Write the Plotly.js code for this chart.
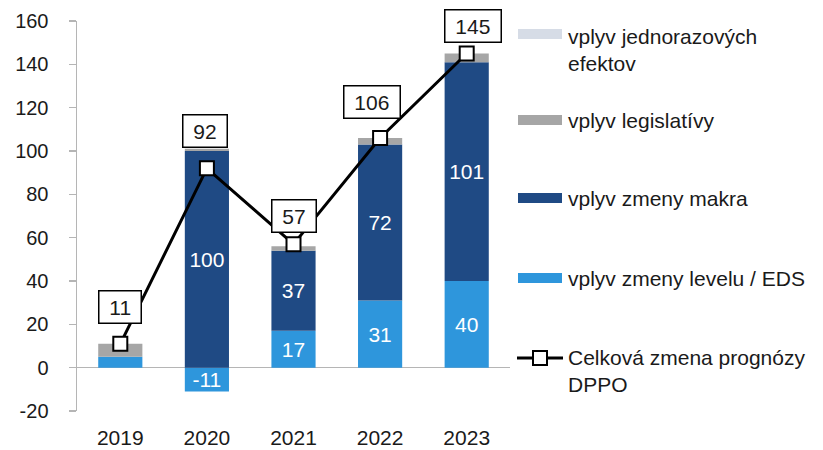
<!DOCTYPE html>
<html>
<head>
<meta charset="utf-8">
<script src="https://cdn.plot.ly/plotly-3.0.1.min.js"></script>
<style>html,body{margin:0;padding:0;background:#fff;}#chart{width:823px;height:450px;}</style>
</head>
<body>
<div id="chart"></div>
<script>
// ---- data ----
const years = ['2019', '2020', '2021', '2022', '2023'];
const levelEDS = [5, -11, 17, 31, 40];          // vplyv zmeny levelu / EDS
const makro = [0, 100, 37, 72, 101];            // vplyv zmeny makra
const legislativa = [6, 1, 2, 3, 4];            // vplyv legislatívy
const jednorazove = [0, 0, 0, 0, 0];            // vplyv jednorazových efektov
const total = [11, 92, 57, 106, 145];           // Celková zmena prognózy DPPO
const yTicks = [-20, 0, 20, 40, 60, 80, 100, 120, 140, 160];
const yTickText = ['-20', '0', '20', '40', '60', '80', '100', '120', '140', '160'];

const seriesNames = ['vplyv jednorazových<br>efektov', 'vplyv legislatívy', 'vplyv zmeny makra', 'vplyv zmeny levelu / EDS', 'Celková zmena prognózy<br>DPPO'];

// ---- style ----
const FONT = 'Arial, "Liberation Sans", sans-serif';
const C_LIGHT = '#2e96dc', C_DARK = '#1f4a84', C_GRAY = '#a6a6a6', C_JED = '#d6dce6';
const AXIS = '#b5b5b5';
const labelYShift = [37, 37, 28, 36, 28];
const labelXShift = [0, -2, 0, -8, 6];

const L = 77, R = 510, T = 21, B = 411;
const px2x = p => (p - L) / (R - L);
const px2y = p => (B - p) / (B - T);

const inLabel = arr => arr.map(v => Math.abs(v) >= 10 ? String(v) : '');

const barCommon = {type: 'bar', x: years, showlegend: false, hoverinfo: 'skip',
  textposition: 'inside', insidetextanchor: 'middle', constraintext: 'none',
  textfont: {family: FONT, size: 21, color: '#ffffff'}};

const traces = [
  Object.assign({}, barCommon, {y: levelEDS, marker: {color: C_LIGHT}, text: inLabel(levelEDS), texttemplate: '%{text}'}),
  Object.assign({}, barCommon, {y: makro, marker: {color: C_DARK}, text: inLabel(makro), texttemplate: '%{text}'}),
  Object.assign({}, barCommon, {y: legislativa, marker: {color: C_GRAY}, text: legislativa.map(() => ''), texttemplate: '%{text}'}),
  Object.assign({}, barCommon, {y: jednorazove, marker: {color: C_JED}, text: jednorazove.map(() => ''), texttemplate: '%{text}'}),
  {type: 'scatter', mode: 'lines+markers', x: years, y: total, showlegend: false, hoverinfo: 'skip',
   line: {color: '#000000', width: 3},
   marker: {symbol: 'square', size: 14, color: '#ffffff', line: {color: '#000000', width: 2}}}
];

const annotations = total.map((v, i) => ({
  x: i, y: v, xref: 'x', yref: 'y', showarrow: false,
  text: '&nbsp;' + v + '&nbsp;', yshift: labelYShift[i], xshift: labelXShift[i],
  font: {family: FONT, size: 21, color: '#1a1a1a'},
  bgcolor: '#ffffff', bordercolor: '#000000', borderwidth: 1.5, borderpad: 4
}));

// manual legend
const legColors = [C_JED, C_GRAY, C_DARK, C_LIGHT];
const legCenters = [34, 120, 198, 278];
const legTextY = [50, 120, 198, 278, 371];
const shapes = [];
legColors.forEach((c, i) => {
  shapes.push({type: 'rect', xref: 'paper', yref: 'paper',
    x0: px2x(518), x1: px2x(562), y0: px2y(legCenters[i] + 5), y1: px2y(legCenters[i] - 5),
    fillcolor: c, line: {width: 0}});
});
shapes.push({type: 'line', xref: 'paper', yref: 'paper', x0: px2x(517), x1: px2x(563), y0: px2y(358), y1: px2y(358),
  line: {color: '#000000', width: 3}});
shapes.push({type: 'rect', xref: 'paper', yref: 'paper', x0: px2x(533), x1: px2x(547), y0: px2y(365), y1: px2y(351),
  fillcolor: '#ffffff', line: {color: '#000000', width: 2}});
seriesNames.forEach((n, i) => {
  annotations.push({xref: 'paper', yref: 'paper', x: px2x(566), y: px2y(legTextY[i]), xanchor: 'left', yanchor: 'middle',
    align: 'left', showarrow: false, text: n, font: {family: FONT, size: 21, color: '#1a1a1a'}});
});

const layout = {
  width: 823, height: 450,
  margin: {l: L, r: 823 - R, t: T, b: 450 - B, pad: 0},
  paper_bgcolor: '#ffffff', plot_bgcolor: '#ffffff',
  barmode: 'relative', bargap: 0.49,
  showlegend: false,
  font: {family: FONT, size: 20, color: '#1a1a1a'},
  xaxis: {type: 'category', range: [-0.5, 4.5], autorange: false, showline: false, ticks: '', showgrid: false, zeroline: false,
    tickfont: {family: FONT, size: 21, color: '#1a1a1a'}, ticklabelstandoff: 12},
  yaxis: {range: [-20, 160], autorange: false, tickmode: 'array', tickvals: yTicks, ticktext: yTickText,
    showline: true, linecolor: AXIS, linewidth: 1.5,
    ticks: 'outside', ticklen: 7, tickcolor: AXIS, tickwidth: 1.5, showgrid: false,
    zeroline: true, zerolinecolor: AXIS, zerolinewidth: 1.5,
    tickfont: {family: FONT, size: 20, color: '#1a1a1a'}, ticklabelstandoff: 16},
  shapes: shapes,
  annotations: annotations
};

Plotly.newPlot('chart', traces, layout, {staticPlot: true, displayModeBar: false});
</script>
</body>
</html>
